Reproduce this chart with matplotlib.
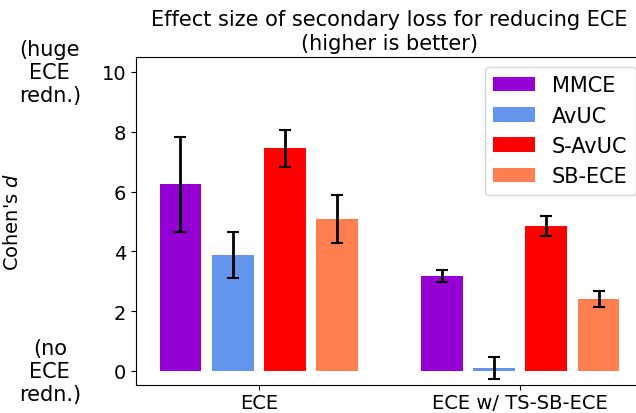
import numpy as np
import matplotlib
matplotlib.use('Agg')
import matplotlib.pyplot as plt

groups = ['ECE', 'ECE w/ TS-SB-ECE']
methods = ['MMCE', 'AvUC', 'S-AvUC', 'SB-ECE']
colors = ['darkviolet', 'cornflowerblue', 'red', 'coral']

# Cohen's d per method, one value per group
mmce = [6.24, 3.18]
avuc = [3.88, 0.11]
savuc = [7.44, 4.86]
sbece = [5.08, 2.41]
# error bar half widths
mmce_err = [1.6, 0.21]
avuc_err = [0.77, 0.37]
savuc_err = [0.61, 0.33]
sbece_err = [0.8, 0.26]

fig = plt.figure(figsize=(6.36, 4.14), dpi=100)
ax = fig.add_axes([136 / 636, 1 - 386 / 414, (643 - 136) / 636, (386 - 58) / 414])

x = np.arange(len(groups))
width = 0.16
step = 0.2
vals = [mmce, avuc, savuc, sbece]
errs = [mmce_err, avuc_err, savuc_err, sbece_err]
for i, (name, v, e, c) in enumerate(zip(methods, vals, errs, colors)):
    ax.bar(x + (i - 1.5) * step, v, width, color=c, label=name,
           yerr=e, capsize=4, error_kw=dict(elinewidth=2, capthick=1.5, ecolor='black'))

ax.set_xticks(x)
ax.set_xticklabels(groups, fontsize=14)
ax.tick_params(axis='x', pad=2)
ax.set_yticks([0, 2, 4, 6, 8, 10])
ax.tick_params(axis='y', labelsize=14)
ax.set_xlim(-0.47, 1.47)
ax.set_ylim(-0.47, 10.5)
ax.set_ylabel("Cohen's $d$", fontsize=14)
ax.yaxis.set_label_coords(-0.225, 0.5)
ax.set_title('Effect size of secondary loss for reducing ECE\n(higher is better)', fontsize=15)

trans = matplotlib.transforms.blended_transform_factory(ax.transAxes, ax.transData)
ax.text(-0.17, 10, '(huge\nECE\nredn.)', transform=trans, ha='center', va='center',
        multialignment='center', fontsize=15, linespacing=1.2)
ax.text(-0.17, 0, '(no\nECE\nredn.)', transform=trans, ha='center', va='center',
        multialignment='center', fontsize=15, linespacing=1.2)

ax.legend(loc='upper right', fontsize=15, borderaxespad=0, bbox_to_anchor=(0.986, 0.97))

fig.savefig('out.png', dpi=100)
